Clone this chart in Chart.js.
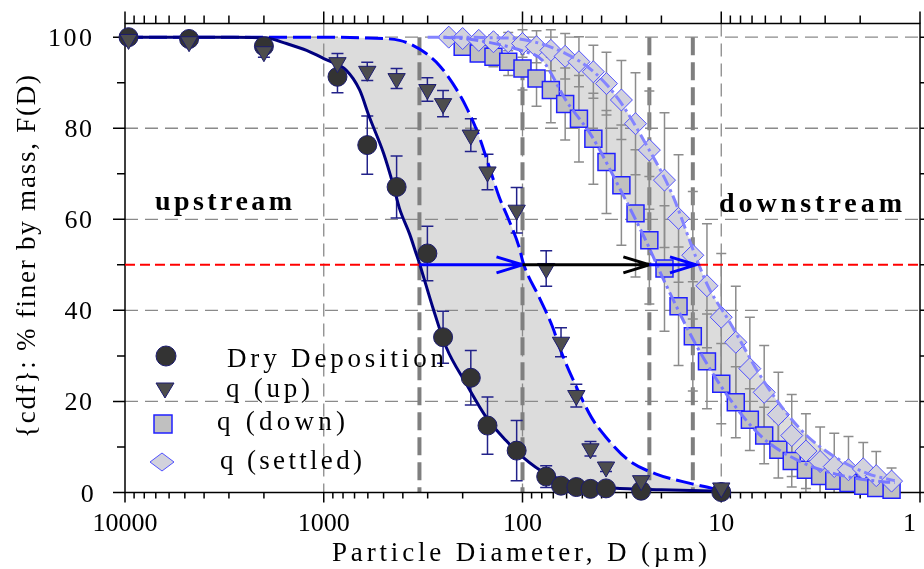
<!DOCTYPE html>
<html>
<head>
<meta charset="utf-8">
<script src="https://cdn.jsdelivr.net/npm/chart.js@4.4.1/dist/chart.umd.min.js"></script>
<style>
  html, body { margin: 0; padding: 0; background: #fff; }
  canvas { display: block; }
</style>
</head>
<body>
<canvas id="psd" width="924" height="569"></canvas>
<script>
// sieve sizes (um) shared by the dry deposition and q(up) samples
const upSizes = [9600, 4760, 2000, 853, 604, 430, 301, 251, 182, 150, 107, 76, 64, 53.6, 45.5, 38, 25.3, 10];
const dryCdf = [100, 99.6, 98.0, 91.3, 76.3, 67.1, 52.5, 34.1, 25.2, 14.7, 9.2, 3.5, 1.5, 1.2, 0.8, 0.9, 0.4, 0.1];
const dryErr = [0.5, 0.8, 1.2, 3.5, 6.4, 6.8, 6.0, 5.7, 6.0, 6.3, 6.6, 2.4, 0.8, 0.5, 0.4, 0.4, 0.3, 0.2];
const upCdf = [99.5, 99.0, 96.8, 94.4, 92.5, 90.9, 88.5, 85.4, 78.5, 70.4, 62.0, 49.2, 33.0, 21.3, 9.6, 5.6, 2.6, 1.0];
const upErr = [0.5, 0.8, 1.2, 2.0, 2.0, 2.2, 2.6, 2.9, 3.6, 3.9, 5.0, 3.9, 3.2, 2.5, 1.6, 1.0, 0.8, 0.5];

// sizes for the downstream samples (laser diffraction bins)
const downSizes = [235, 200, 166, 140, 118, 100, 85, 72, 61, 52, 44, 37.8, 31.8, 27, 23, 19.3, 16.4, 13.9, 11.8, 10,
                   8.45, 7.18, 6.08, 5.16, 4.42, 3.75, 3.18, 2.70, 2.29, 1.93, 1.66, 1.39];
const downCdf = [null, 97.9, 96.4, 95.7, 94.6, 93.1, 90.9, 88.4, 85.3, 82.1, 77.7, 72.6, 67.5, 61.3, 55.4, 49.2, 40.9, 34.3, 28.8, 23.9,
                 19.8, 16.0, 12.5, 9.4, 6.9, 5.0, 3.6, 2.6, 2.1, 1.5, 1.0, 0.6];
const downErr = [0, 1, 1.5, 2.2, 3, 4.7, 6.1, 7.2, 7.9, 9.5, 10, 11.3, 13.2, 14, 14, 13.8, 13, 12, 10.4, 8.8,
                 7.8, 6.8, 6.2, 6.2, 5.7, 5, 4, 3, 2.5, 2, 1.5, 1];
const settledCdf = [100, 99.7, 99.3, 99.0, 99.0, 98.6, 97.9, 97.1, 95.8, 94.6, 92.4, 89.8, 86.2, 81.0, 75.2, 68.6, 60.2, 52.1, 45.4, 38.5,
                    33.0, 27.2, 22.0, 17.1, 12.5, 9.1, 6.8, 5.7, 5.0, 5.2, 3.7, 2.5];
const settledErr = [0.5, 0.8, 1, 1.5, 2, 3, 3.5, 4.5, 5, 5.5, 5.8, 6.9, 8.7, 11.2, 13, 14.8, 14, 14, 13.6, 14,
                    12.3, 11.3, 10.3, 9.3, 9, 8.2, 7.6, 7.3, 7.3, 5.8, 5.3, 2.9];

// fitted cdf curves
const dryFitD = [10000, 2860, 1940, 1540, 1220, 1000, 770, 660, 590, 500, 447, 416, 370, 343, 330, 283, 242, 192, 152, 121, 100, 76, 52, 35, 20, 10];
const dryFitY = [100, 100, 99.8, 98.6, 97.1, 95.3, 92.7, 88.4, 82.5, 74.5, 67.5, 62.4, 56.8, 52.5, 50.3, 40.7, 31.9, 23.9, 16.5, 11.4, 7.8, 4.1, 1.9, 1.0, 0.6, 0.3];
const upFitD = [10000, 1000, 600, 416, 356, 305, 262, 224, 192, 165, 147, 131, 117, 104, 99, 82.5, 70.8, 64, 53.3, 45, 38.1, 29.1, 21.4, 14, 10];
const upFitY = [100, 100, 99.8, 99.3, 98.2, 96.4, 93.8, 89.8, 84.7, 78.1, 71.5, 64.9, 59.8, 53.9, 50.3, 42.9, 36.5, 31, 23, 16.5, 12.2, 7, 4.1, 1.9, 0.5];
const downFitD = [250, 180, 120, 100, 79.4, 60.6, 44.6, 32.7, 24.0, 19.1, 13.5, 9.18, 6.25, 4.09, 2.68, 1.5, 1.34];
const downFitY = [100, 99.5, 98, 97, 94.9, 86.2, 78.1, 67.1, 55.4, 45.9, 32.7, 20.9, 12.2, 7.0, 4.1, 2.3, 2.2];
const settledFitD = [300, 200, 150, 104, 60.6, 42.8, 32.7, 24.0, 17.7, 13.5, 11.6, 9.18, 6.0, 3.94, 2.68, 1.82, 1.34];
const settledFitY = [100, 100, 99.9, 99.6, 96.4, 92, 86.2, 76.6, 65.6, 52, 45.1, 37.8, 23.9, 13.6, 7.8, 4.1, 2.6];

// d50 of each sample and the shift arrows at F(D) = 50
const medianLevel = 50;
const d50Sizes = [330, 100, 23, 13.9];
const arrowFrom = [330, 100, 23];
const arrowTo = [100, 23, 13.4];
const arrowColors = ['#0000ff', '#000000', '#0000ff'];

const xTickValues = [10000, 1000, 100, 10, 1];
const xTickLabels = ['10000', '1000', '100', '10', '1'];
const yTickValues = [0, 20, 40, 60, 80, 100];
const yTickLabels = ['0', '20', '40', '60', '80', '100'];
const legendLabels = ['Dry Deposition', 'q (up)', 'q (down)', 'q (settled)'];

const SERIF = '"Liberation Serif", "Times New Roman", serif';

function pts(xs, ys) {
    const out = [];
    xs.forEach((x, i) => { if (ys[i] !== null) out.push({ x: x, y: ys[i] }); });
    return out;
}

// text fitted to a width by letter spacing (falls back to horizontal scaling)
function spacedText(ctx, str, x, y, size, width, opt) {
    opt = opt || {};
    ctx.save();
    ctx.font = (opt.bold ? 'bold ' : '') + size + 'px ' + SERIF;
    ctx.fillStyle = '#000';
    ctx.textBaseline = 'alphabetic';
    ctx.textAlign = 'left';
    const natural = ctx.measureText(str).width;
    const n = str.length;
    let sp = width && n > 1 ? (width - natural) / (n - 1) : 0;
    const total = width || natural;
    let x0 = opt.align === 'right' ? -total : opt.align === 'center' ? -total / 2 : 0;
    ctx.translate(x, y);
    if (opt.rotate) ctx.rotate(opt.rotate);
    if ('letterSpacing' in ctx) {
        ctx.letterSpacing = sp + 'px';
        ctx.fillText(str, x0, 0);
    } else {
        ctx.scale(total / natural, 1);
        ctx.fillText(str, x0 * natural / total, 0);
    }
    ctx.restore();
}

function marker(ctx, kind, x, y) {
    ctx.save();
    ctx.beginPath();
    if (kind === 0) {
        ctx.arc(x, y, 10, 0, Math.PI * 2);
        ctx.fillStyle = '#333333'; ctx.strokeStyle = '#1c1c70'; ctx.lineWidth = 1;
    } else if (kind === 1) {
        ctx.moveTo(x - 9, y - 5); ctx.lineTo(x + 9, y - 5); ctx.lineTo(x, y + 10); ctx.closePath();
        ctx.fillStyle = '#4d4d4d'; ctx.strokeStyle = '#1c1c70'; ctx.lineWidth = 1;
    } else if (kind === 2) {
        ctx.rect(x - 9, y - 9, 18, 18);
        ctx.fillStyle = '#c0c0c0'; ctx.strokeStyle = '#2020ff'; ctx.lineWidth = 1.5;
    } else {
        ctx.moveTo(x - 12, y); ctx.lineTo(x, y - 9); ctx.lineTo(x + 12, y); ctx.lineTo(x, y + 9); ctx.closePath();
        ctx.fillStyle = '#d2d2dc'; ctx.strokeStyle = '#5050ff'; ctx.lineWidth = 1;
    }
    ctx.fill(); ctx.stroke();
    ctx.restore();
}

function errorBars(ctx, chart, xs, ys, errs, color, cap) {
    const sx = chart.scales.x, sy = chart.scales.y, a = chart.chartArea;
    ctx.save();
    ctx.beginPath();
    ctx.rect(a.left, 0, a.right - a.left, a.bottom);
    ctx.clip();
    ctx.strokeStyle = color;
    ctx.lineWidth = 1.5;
    xs.forEach((d, i) => {
        if (ys[i] === null || !errs[i]) return;
        const x = sx.getPixelForValue(d);
        const y1 = sy.getPixelForValue(ys[i] + errs[i]);
        const y2 = sy.getPixelForValue(ys[i] - errs[i]);
        ctx.beginPath();
        ctx.moveTo(x, y1); ctx.lineTo(x, y2);
        ctx.moveTo(x - cap, y1); ctx.lineTo(x + cap, y1);
        ctx.moveTo(x - cap, y2); ctx.lineTo(x + cap, y2);
        ctx.stroke();
    });
    ctx.restore();
}

const backdrop = {
    id: 'backdrop',
    beforeDatasetsDraw(chart) {
        const ctx = chart.ctx, sx = chart.scales.x, sy = chart.scales.y, a = chart.chartArea;
        // dashed grid
        ctx.save();
        ctx.strokeStyle = '#8a8a8a';
        ctx.lineWidth = 1.3;
        ctx.setLineDash([13, 7]);
        yTickValues.slice(1).forEach(v => {
            const y = sy.getPixelForValue(v);
            ctx.beginPath(); ctx.moveTo(a.left, y); ctx.lineTo(a.right, y); ctx.stroke();
        });
        xTickValues.slice(1, -1).forEach(v => {
            const x = sx.getPixelForValue(v);
            ctx.beginPath(); ctx.moveTo(x, a.top); ctx.lineTo(x, a.bottom); ctx.stroke();
        });
        // d50 markers
        ctx.strokeStyle = '#7f7f7f';
        ctx.lineWidth = 4;
        ctx.setLineDash([18, 7]);
        d50Sizes.forEach(d => {
            const x = sx.getPixelForValue(d);
            ctx.beginPath(); ctx.moveTo(x, sy.getPixelForValue(100)); ctx.lineTo(x, a.bottom); ctx.stroke();
        });
        ctx.restore();

        errorBars(ctx, chart, downSizes, downCdf, downErr, '#8c8c8c', 5);
        errorBars(ctx, chart, downSizes, settledCdf, settledErr, '#8c8c8c', 5);
        errorBars(ctx, chart, upSizes, dryCdf, dryErr, '#22228a', 6);
        errorBars(ctx, chart, upSizes, upCdf, upErr, '#22228a', 6);

        // frame and ticks on all four sides
        ctx.save();
        ctx.strokeStyle = '#000';
        ctx.lineWidth = 1.5;
        ctx.strokeRect(a.left, a.top, a.right - a.left, a.bottom - a.top);
        ctx.beginPath();
        for (let e = 0; e < 4; e++) {
            for (let m = 1; m < 10; m++) {
                const x = sx.getPixelForValue(m * Math.pow(10, e));
                const major = m === 1;
                ctx.moveTo(x, a.bottom); ctx.lineTo(x, a.bottom + (major ? 10 : 6));
                ctx.moveTo(x, a.top); ctx.lineTo(x, a.top - (major ? 12 : 8));
            }
        }
        const xe = sx.getPixelForValue(10000);
        ctx.moveTo(xe, a.bottom); ctx.lineTo(xe, a.bottom + 10);
        ctx.moveTo(xe, a.top); ctx.lineTo(xe, a.top - 12);
        for (let v = 0; v <= 100; v += 10) {
            const y = sy.getPixelForValue(v);
            const major = v % 20 === 0;
            ctx.moveTo(a.left, y); ctx.lineTo(a.left - (major ? 12 : 8), y);
            ctx.moveTo(a.right, y); ctx.lineTo(a.right + 5, y);
        }
        ctx.stroke();
        ctx.restore();
    },
    afterDatasetsDraw(chart) {
        const ctx = chart.ctx, sx = chart.scales.x, sy = chart.scales.y, a = chart.chartArea;
        const ym = sy.getPixelForValue(medianLevel);
        ctx.save();
        // F(D) = 50 reference
        ctx.strokeStyle = '#ff0000';
        ctx.lineWidth = 2;
        ctx.setLineDash([10, 5]);
        ctx.beginPath();
        ctx.moveTo(a.left, ym); ctx.lineTo(sx.getPixelForValue(arrowFrom[0]), ym);
        ctx.moveTo(sx.getPixelForValue(arrowTo[arrowTo.length - 1]) + 2, ym); ctx.lineTo(a.right, ym);
        ctx.stroke();
        ctx.setLineDash([]);
        ctx.lineWidth = 3;
        arrowFrom.forEach((d, i) => {
            const x1 = sx.getPixelForValue(d), x2 = sx.getPixelForValue(arrowTo[i]);
            ctx.strokeStyle = arrowColors[i];
            ctx.beginPath();
            ctx.moveTo(x1, ym); ctx.lineTo(x2, ym);
            ctx.moveTo(x2 - 26, ym - 8); ctx.lineTo(x2, ym); ctx.lineTo(x2 - 26, ym + 8);
            ctx.stroke();
        });
        ctx.restore();

        // tick labels
        yTickValues.forEach((v, i) => {
            spacedText(ctx, yTickLabels[i], 92, sy.getPixelForValue(v) + 9, 26, yTickLabels[i].length * 16.3 - 5, { align: 'right' });
        });
        xTickValues.forEach((v, i) => {
            const w = xTickLabels[i].length * 11;
            let x = sx.getPixelForValue(v);
            x = Math.min(x, 915 - w / 2);
            spacedText(ctx, xTickLabels[i], x, 531, 26, 0, { align: 'center' });
        });
        // axis titles
        spacedText(ctx, 'Particle Diameter, D (\u00b5m)', 332, 561, 27, 375, {});
        spacedText(ctx, '{cdf}: % finer by mass, F(D)', 35, 256.5, 27, 363, { align: 'center', rotate: -Math.PI / 2 });
        // region labels
        spacedText(ctx, 'upstream', 155, 209.5, 28, 137, { bold: true });
        spacedText(ctx, 'downstream', 719, 211.5, 28, 183, { bold: true });
        // legend
        const lx = [166, 165, 163, 162];
        const ly = [356, 388, 424, 462];
        const tx = [227, 226, 217, 220];
        const tb = [366.5, 396.5, 430, 468.5];
        const tw = [217, 84, 128, 142];
        legendLabels.forEach((t, i) => {
            marker(ctx, i, lx[i], ly[i]);
            spacedText(ctx, t, tx[i], tb[i], 27, tw[i], {});
        });
    }
};

const ctx = document.getElementById('psd').getContext('2d');
new Chart(ctx, {
    type: 'line',
    data: {
        datasets: [
            {   // 0: dry deposition fit, filled to the q(up) fit
                data: pts(dryFitD, dryFitY), fill: 1, backgroundColor: '#dcdcdc',
                borderColor: '#00007f', borderWidth: 3, pointRadius: 0,
                cubicInterpolationMode: 'monotone', order: 10
            },
            {   // 1: q(up) fit
                data: pts(upFitD, upFitY), fill: false,
                borderColor: '#0000ff', borderWidth: 3, borderDash: [18, 6], pointRadius: 0,
                cubicInterpolationMode: 'monotone', order: 10
            },
            {   // 2: q(down) fit, filled to the settled fit
                data: pts(downFitD, downFitY), fill: 3, backgroundColor: '#dcdcdc',
                borderColor: '#7878ff', borderWidth: 3, borderDash: [12, 4, 3, 4], pointRadius: 0,
                cubicInterpolationMode: 'monotone', order: 1
            },
            {   // 3: q(settled) fit
                data: pts(settledFitD, settledFitY), fill: false,
                borderColor: '#8484ff', borderWidth: 3, borderDash: [12, 4, 3, 4], pointRadius: 0,
                cubicInterpolationMode: 'monotone', order: 1
            },
            {
                label: legendLabels[0], data: pts(upSizes, dryCdf), showLine: false, clip: false,
                pointStyle: 'circle', pointRadius: 9.5, pointBackgroundColor: '#333333',
                pointBorderColor: '#1c1c70', pointBorderWidth: 1, order: 5
            },
            {
                label: legendLabels[1], data: pts(upSizes, upCdf), showLine: false, clip: false,
                pointStyle: 'triangle', pointRotation: 180, pointRadius: 10, pointBackgroundColor: '#4d4d4d',
                pointBorderColor: '#1c1c70', pointBorderWidth: 1, order: 4
            },
            {
                label: legendLabels[2], data: pts(downSizes, downCdf), showLine: false, clip: false,
                pointStyle: 'rect', pointRadius: 12, pointBackgroundColor: '#c0c0c0',
                pointBorderColor: '#2020ff', pointBorderWidth: 1.5, order: 3
            },
            {
                label: legendLabels[3], data: pts(downSizes, settledCdf), showLine: false, clip: false,
                pointStyle: 'rectRot', pointRadius: 11, pointBackgroundColor: '#d2d2dc',
                pointBorderColor: '#5050ff', pointBorderWidth: 1, order: 2
            }
        ]
    },
    options: {
        responsive: false,
        animation: false,
        layout: { autoPadding: false, padding: { left: 125, right: 4, top: 23.5, bottom: 76.5 } },
        scales: {
            x: { type: 'logarithmic', min: 1, max: 10000, reverse: true, display: false },
            y: { type: 'linear', min: 0, max: 103, display: false }
        },
        plugins: {
            legend: { display: false },
            tooltip: { enabled: false },
            filler: { drawTime: 'beforeDatasetsDraw', propagate: false }
        }
    },
    plugins: [backdrop]
});
</script>
</body>
</html>
